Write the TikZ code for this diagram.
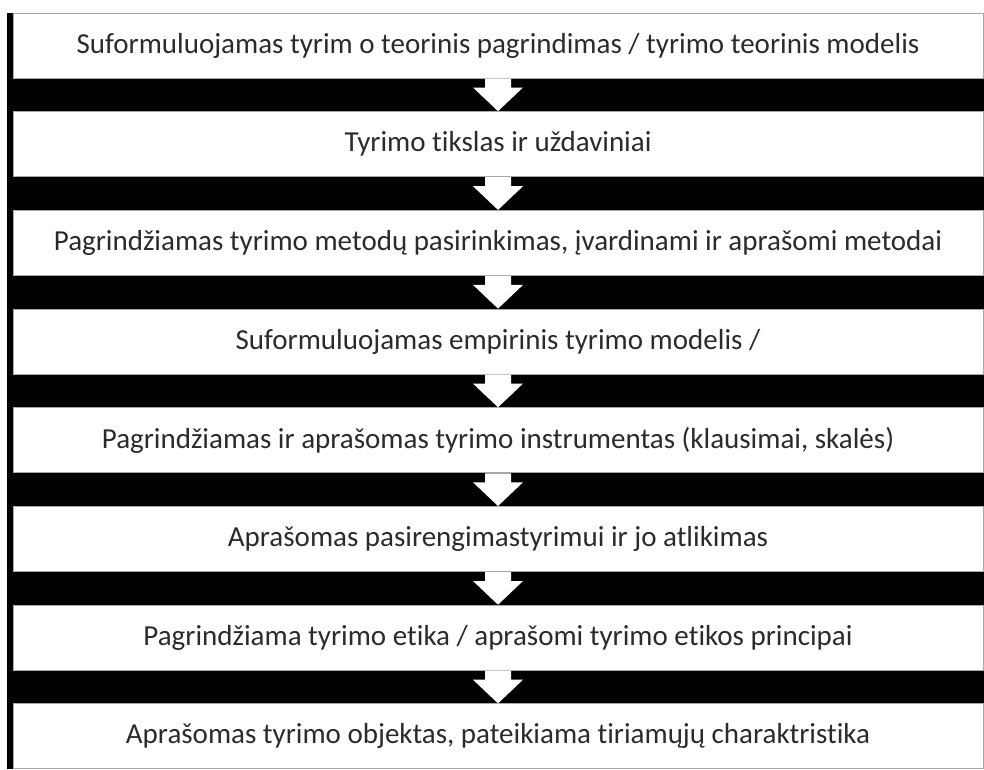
\documentclass[tikz,border=0pt]{standalone}
\usepackage{fontspec}
\setmainfont[Ligatures=NoCommon]{Carlito}
\usetikzlibrary{calc}
\definecolor{boxline}{HTML}{A8A8A8}
\definecolor{inktext}{HTML}{2B2B2B}
\tikzset{
  stagebox/.style={draw=boxline, line width=1pt, fill=white, minimum width=970pt,
    minimum height=65pt, inner sep=0pt, text=inktext,
    font=\fontsize{29}{34}\selectfont},
  downarrow/.style={fill=white, draw=none}
}
\begin{document}
\begin{tikzpicture}[x=1pt, y=-1pt]
  \useasboundingbox (0,0) rectangle (984,769);
  % black backing panel with the thin left rail
  \fill[black] (7,13) rectangle (984,769);
  % stages
  \node[stagebox] (b1) at (498,45.5) {Suformuluojamas tyrim o teorinis pagrindimas / tyrimo teorinis modelis};
  \node[stagebox] (b2) at (498,144.2) {Tyrimo tikslas ir uždaviniai};
  \node[stagebox] (b3) at (498,242.9) {Pagrindžiamas tyrimo metodų pasirinkimas, įvardinami ir aprašomi metodai};
  \node[stagebox] (b4) at (498,341.6) {Suformuluojamas empirinis tyrimo modelis /};
  \node[stagebox] (b5) at (498,440.3) {Pagrindžiamas ir aprašomas tyrimo instrumentas (klausimai, skalės)};
  \node[stagebox] (b6) at (498,539.0) {Aprašomas pasirengimastyrimui ir jo atlikimas};
  \node[stagebox] (b7) at (498,637.7) {Pagrindžiama tyrimo etika / aprašomi tyrimo etikos principai};
  \node[stagebox] (b8) at (498,736.4) {Aprašomas tyrimo objektas, pateikiama tiriamųjų charaktristika};
  % white block arrows between consecutive stages
  \foreach \i/\j in {1/2,2/3,3/4,4/5,5/6,6/7,7/8}{
    \fill[downarrow]
      ($(b\i.south)+(-13,0)$) -- ++(0,9) -- ++(-12,0) -- (b\j.north)
      -- ($(b\i.south)+(25,9)$) -- ++(-12,0) -- ($(b\i.south)+(13,0)$) -- cycle;
  }
\end{tikzpicture}
\end{document}
